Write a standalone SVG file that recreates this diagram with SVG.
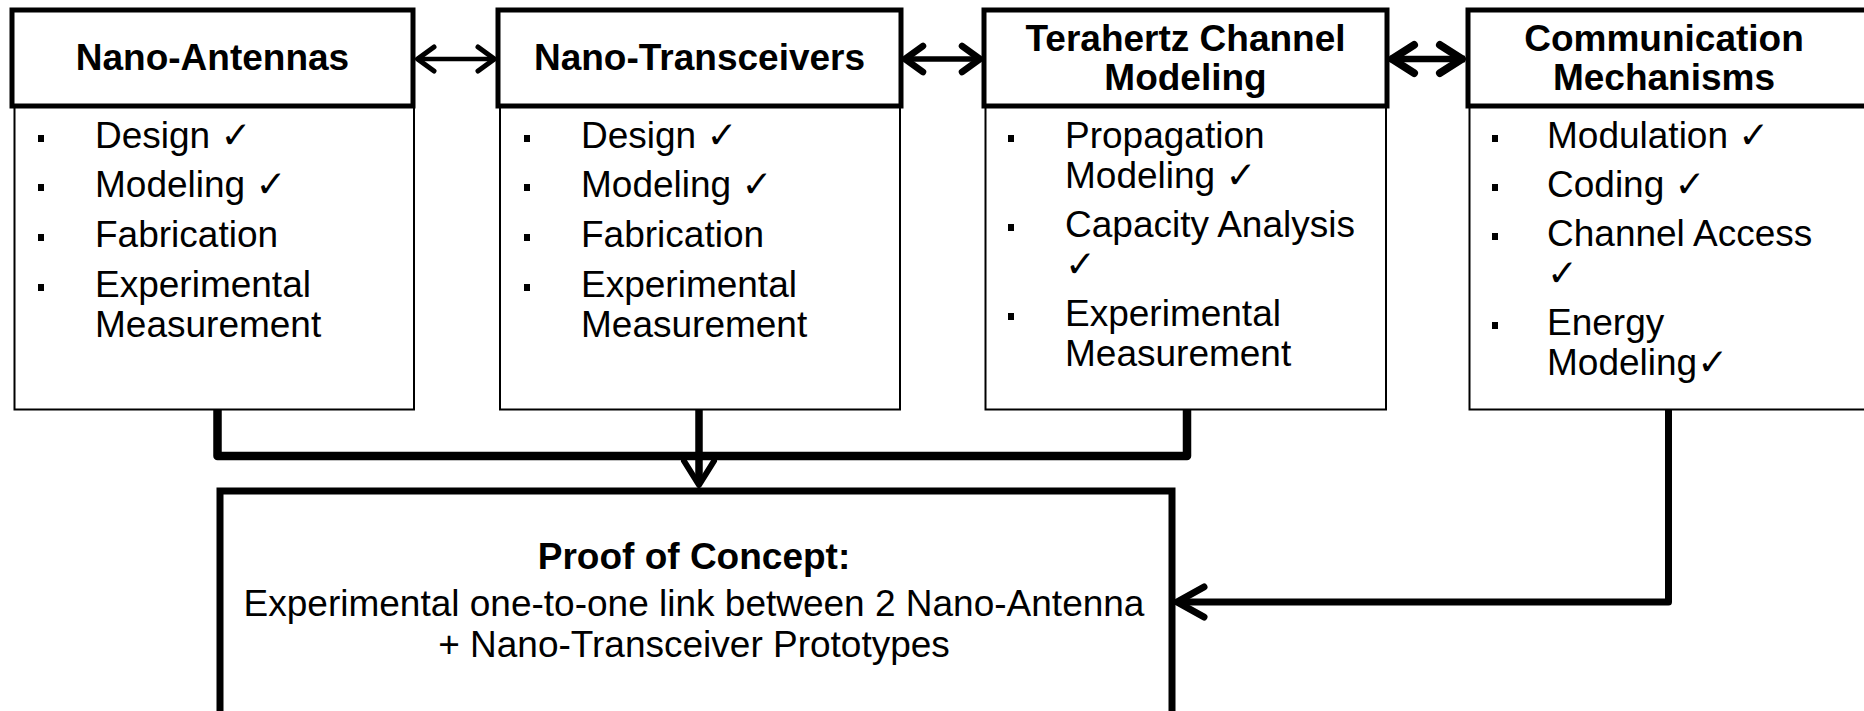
<svg xmlns="http://www.w3.org/2000/svg" width="1864" height="711" viewBox="0 0 1864 711">
<style>
.hdr{fill:#fff;stroke:#000;stroke-width:5}
.body{fill:#fff;stroke:#000;stroke-width:2}
.proof{fill:#fff;stroke:#000;stroke-width:7}
.ht{font-family:"Liberation Sans",Arial,"DejaVu Sans",sans-serif;font-weight:bold;font-size:37px;text-anchor:middle;fill:#000}
.bt{font-family:"Liberation Sans",Arial,"DejaVu Sans",sans-serif;font-size:37px;fill:#000}
.pt{font-family:"Liberation Sans",Arial,"DejaVu Sans",sans-serif;font-size:37px;text-anchor:middle;fill:#000}
.bl{fill:#000}
.ln{fill:none;stroke:#000;stroke-linejoin:round}
.ch{fill:none;stroke:#000;stroke-linecap:round;stroke-linejoin:round}
</style>
<rect width="1864" height="711" fill="#fff"/>

<g id="node-nano-antennas">
<rect class="body" x="14.5" y="106" width="399.5" height="303.5"/>
<rect class="hdr" x="12" y="10" width="401" height="96"/>
<text class="ht" x="212.5" y="70">Nano-Antennas</text>
<rect class="bl" x="38" y="135" width="6" height="7"/><text class="bt" x="95" y="148">Design ✓</text>
<rect class="bl" x="38" y="184" width="6" height="7"/><text class="bt" x="95" y="197">Modeling ✓</text>
<rect class="bl" x="38" y="234" width="6" height="7"/><text class="bt" x="95" y="247">Fabrication</text>
<rect class="bl" x="38" y="284" width="6" height="7"/><text class="bt" x="95" y="297">Experimental</text>
<text class="bt" x="95" y="337">Measurement</text>
</g>

<g id="node-nano-transceivers">
<rect class="body" x="500" y="106" width="400" height="303.5"/>
<rect class="hdr" x="498" y="10" width="403" height="96"/>
<text class="ht" x="699.5" y="70">Nano-Transceivers</text>
<rect class="bl" x="524" y="135" width="6" height="7"/><text class="bt" x="581" y="148">Design ✓</text>
<rect class="bl" x="524" y="184" width="6" height="7"/><text class="bt" x="581" y="197">Modeling ✓</text>
<rect class="bl" x="524" y="234" width="6" height="7"/><text class="bt" x="581" y="247">Fabrication</text>
<rect class="bl" x="524" y="284" width="6" height="7"/><text class="bt" x="581" y="297">Experimental</text>
<text class="bt" x="581" y="337">Measurement</text>
</g>

<g id="node-terahertz-channel">
<rect class="body" x="985.5" y="106" width="400.5" height="303.5"/>
<rect class="hdr" x="984" y="10" width="403" height="96"/>
<text class="ht" x="1185.5" y="51">Terahertz Channel</text>
<text class="ht" x="1185.5" y="90">Modeling</text>
<rect class="bl" x="1008" y="135" width="6" height="7"/><text class="bt" x="1065" y="148">Propagation</text>
<text class="bt" x="1065" y="188">Modeling ✓</text>
<rect class="bl" x="1008" y="224" width="6" height="7"/><text class="bt" x="1065" y="237">Capacity Analysis</text>
<text class="bt" x="1065" y="277">✓</text>
<rect class="bl" x="1008" y="313" width="6" height="7"/><text class="bt" x="1065" y="326">Experimental</text>
<text class="bt" x="1065" y="366">Measurement</text>
</g>

<g id="node-communication-mechanisms">
<rect class="body" x="1469.5" y="106" width="410" height="303.5"/>
<rect class="hdr" x="1468" y="10" width="412" height="96"/>
<text class="ht" x="1664" y="51">Communication</text>
<text class="ht" x="1664" y="90">Mechanisms</text>
<rect class="bl" x="1492" y="135" width="6" height="7"/><text class="bt" x="1547" y="148">Modulation ✓</text>
<rect class="bl" x="1492" y="184" width="6" height="7"/><text class="bt" x="1547" y="197">Coding ✓</text>
<rect class="bl" x="1492" y="233" width="6" height="7"/><text class="bt" x="1547" y="246">Channel Access</text>
<text class="bt" x="1547" y="286">✓</text>
<rect class="bl" x="1492" y="322" width="6" height="7"/><text class="bt" x="1547" y="335">Energy</text>
<text class="bt" x="1547" y="375">Modeling✓</text>
</g>

<g id="node-proof-of-concept">
<rect class="proof" x="220" y="491" width="952" height="280"/>
<text class="pt" x="694" y="569" font-weight="bold">Proof of Concept:</text>
<text class="pt" x="694" y="616">Experimental one-to-one link between 2 Nano-Antenna</text>
<text class="pt" x="694" y="657">+ Nano-Transceiver Prototypes</text>
</g>

<g id="connectors">
<line x1="417" y1="59" x2="495" y2="59" stroke="#000" stroke-width="4.5"/>
<polyline class="ch" stroke-width="5" points="434,47 417.5,59 434,71"/>
<polyline class="ch" stroke-width="5" points="478,47 494.5,59 478,71"/>

<line x1="904" y1="59" x2="981" y2="59" stroke="#000" stroke-width="5.5"/>
<polyline class="ch" stroke-width="6.5" points="923,46 905,59 923,72"/>
<polyline class="ch" stroke-width="6.5" points="962,46 980,59 962,72"/>

<line x1="1390" y1="59" x2="1465" y2="59" stroke="#000" stroke-width="6.5"/>
<polyline class="ch" stroke-width="8" points="1414,45 1392,59 1414,73"/>
<polyline class="ch" stroke-width="8" points="1440,45 1462,59 1440,73"/>

<path class="ln" stroke-width="8.5" d="M217.5,410 V456 H1187 V410"/>
<line x1="699" y1="410" x2="699" y2="484" stroke="#000" stroke-width="7.5"/>
<polyline class="ch" stroke-width="6" points="684,461 699,485 714,461"/>

<path class="ln" stroke-width="7" d="M1668.5,410 V602 H1178"/>
<polyline class="ch" stroke-width="7" points="1204,587 1177,602 1204,617"/>
</g>
</svg>
